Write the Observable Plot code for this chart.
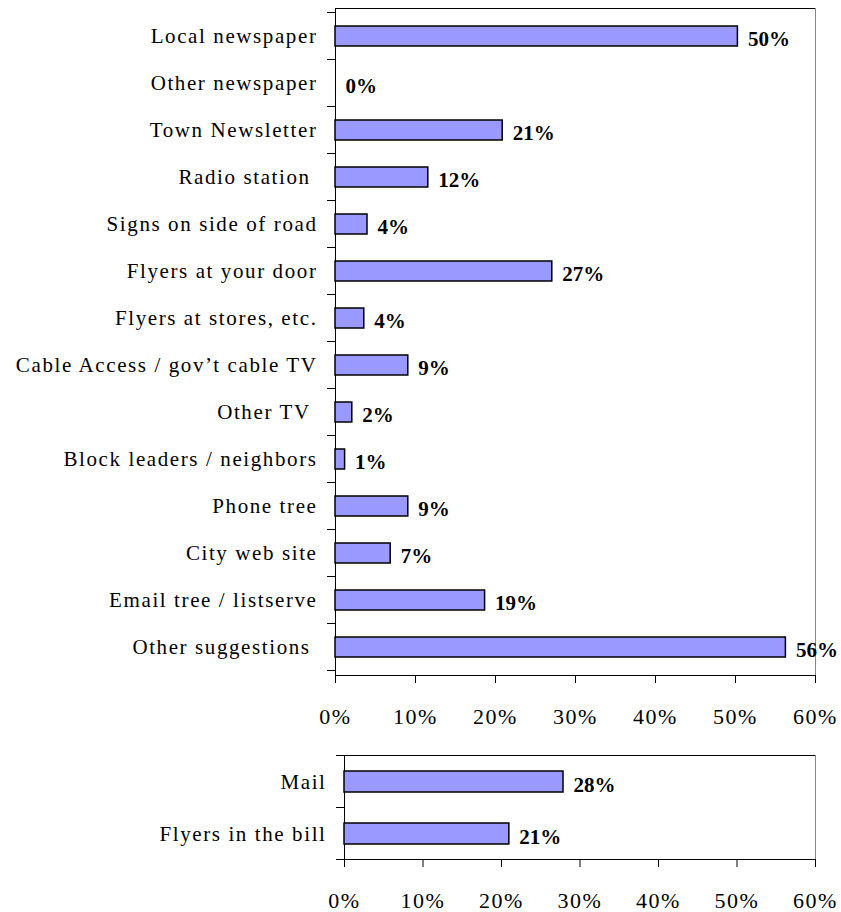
<!DOCTYPE html>
<html><head><meta charset="utf-8">
<script src="https://cdn.jsdelivr.net/npm/d3@7"></script>
<script src="https://cdn.jsdelivr.net/npm/@observablehq/plot@0.6"></script>
<style>
body{margin:0;background:#fff;}
#chart svg{display:block;overflow:visible;}
#chart g[aria-label="y-axis tick label"] text{letter-spacing:1.6px;}
#chart g[aria-label="x-axis tick label"] text{letter-spacing:1.5px;font-size:22px;}
</style></head><body><div id="chart"></div>
<script>
const sources = ["Local newspaper","Other newspaper","Town Newsletter","Radio station\u00a0","Signs on side of road","Flyers at your door","Flyers at stores, etc.","Cable Access / gov\u2019t cable TV","Other TV\u00a0","Block leaders / neighbors","Phone tree","City web site","Email tree / listserve","Other suggestions\u00a0"];
const sourceValues = [50.3, 0, 20.9, 11.6, 4.0, 27.1, 3.6, 9.1, 2.1, 1.2, 9.1, 6.9, 18.7, 56.3];
const billSources = ["Mail","Flyers in the bill"];
const billValues = [27.9, 21.0];
const xTicks = [0,10,20,30,40,50,60];

function makeChart({cats, vals, height, marginTop, marginBottom, marginLeft, padding}) {
  const data = cats.map((c,i)=>({label:c, value: vals[i]}));
  const plot = Plot.plot({
    width: 841, height, marginTop, marginBottom, marginLeft, marginRight: 26,
    style: {fontFamily: "Liberation Serif", fontSize: "21px", color:"#000", background:"#fff", overflow:"visible"},
    x: {domain:[0,60], ticks: xTicks, tickFormat: d=>d+"%", tickSize: 8, tickPadding: 25, label: null},
    y: {domain: cats, paddingInner: padding, paddingOuter: padding/2, tickSize: 0, tickPadding: 18, label:null},
    marks: [
      Plot.frame({stroke:"#000"}),
      Plot.ruleX([60], {stroke:"#888"}),
      Plot.barX(data, {x:"value", y:"label", fill:"#9999ff", stroke:"#000", strokeWidth:1.5}),
      Plot.text(data, {x:"value", y:"label", text: d=>Math.round(d.value)+"%", textAnchor:"start", dx:10, dy:3, fontWeight:"bold", fontSize:21, fill:"#000"})
    ]
  });
  const ys = plot.scale("y"), xs = plot.scale("x");
  const x0 = xs.apply(0);
  const g = d3.select(plot).append("g").attr("stroke","#000");
  cats.forEach((c,i)=>{
    const top = ys.apply(c) - (ys.step - ys.bandwidth)/2;
    g.append("line").attr("x1",x0-8).attr("x2",x0).attr("y1",top).attr("y2",top);
    if(i===cats.length-1){
      const b = top + ys.step;
      g.append("line").attr("x1",x0-8).attr("x2",x0).attr("y1",b).attr("y2",b);
    }
  });
  return plot;
}

const chart = document.getElementById("chart");
chart.appendChild(makeChart({cats:sources, vals:sourceValues, height:735, marginTop:8, marginBottom:60, marginLeft:335, padding:0.58}));
chart.appendChild(makeChart({cats:billSources, vals:billValues, height:177, marginTop:20, marginBottom:53, marginLeft:344, padding:0.6}));
</script></body></html>
